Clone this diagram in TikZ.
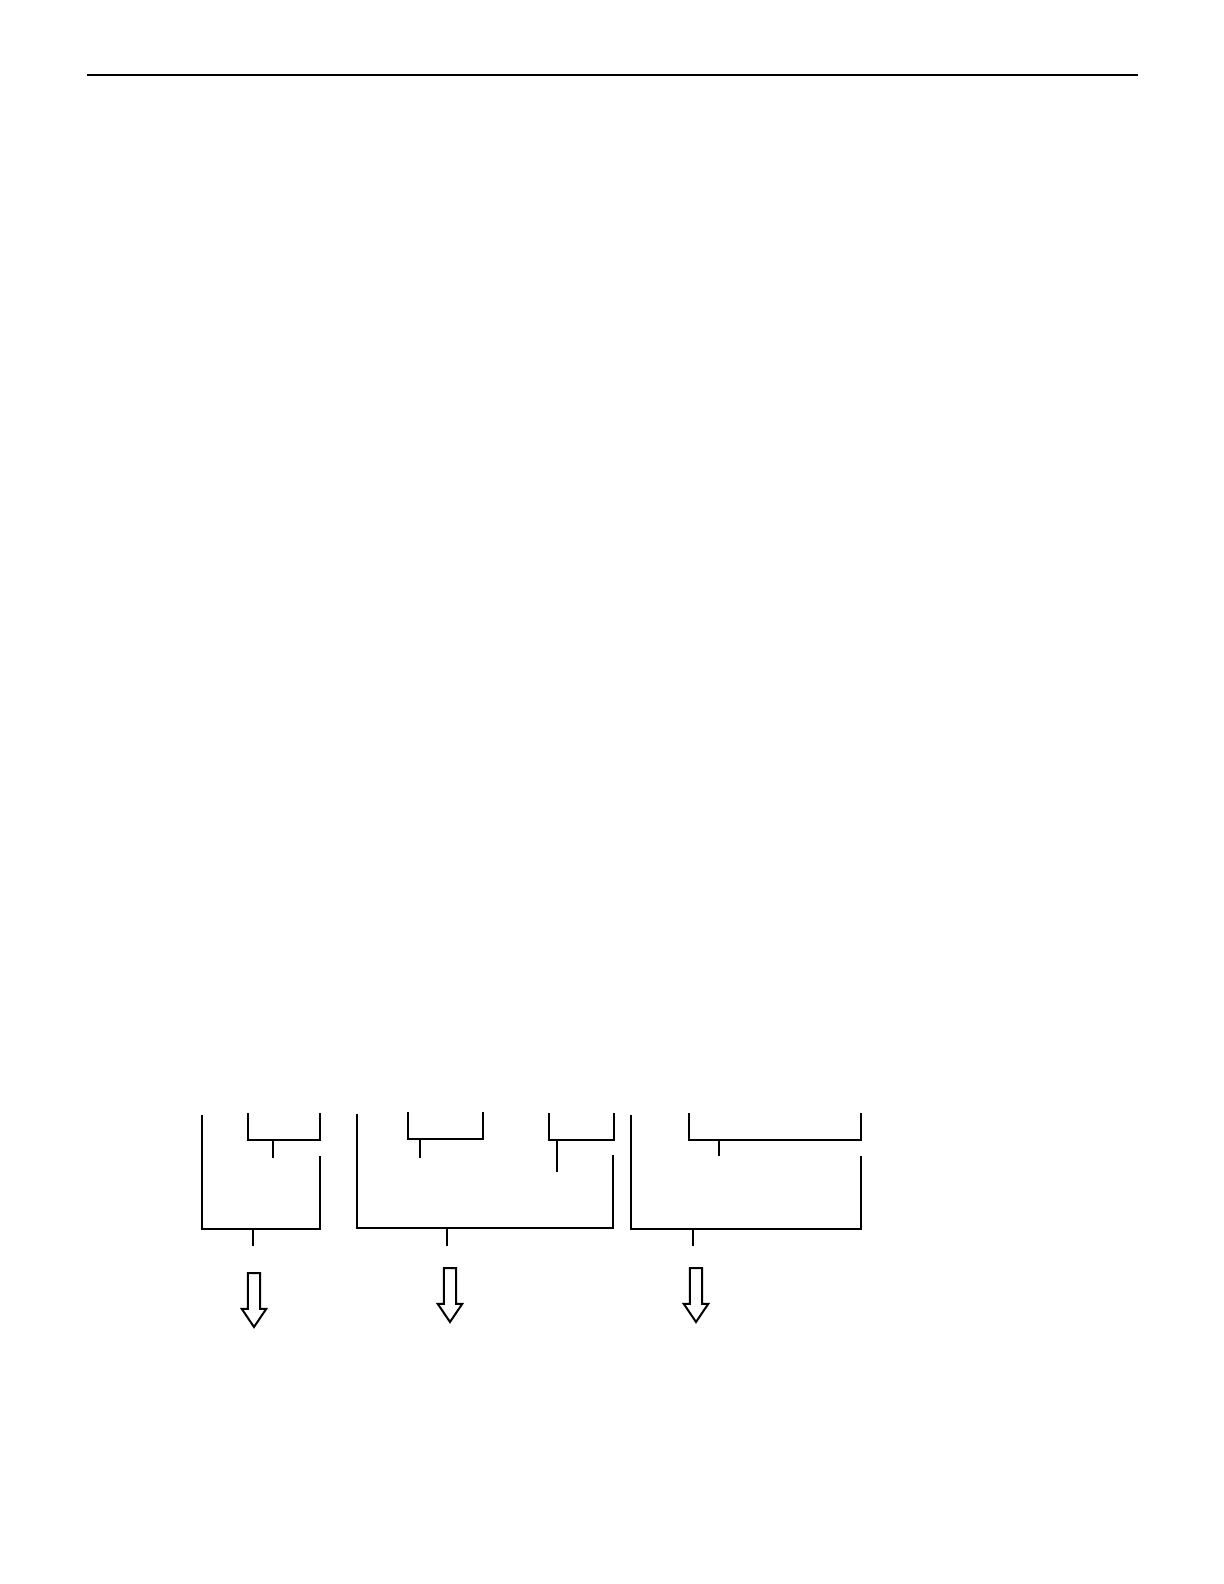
\documentclass[tikz,border=0pt]{standalone}
\usepackage{tikz}
\usetikzlibrary{arrows}
\usetikzlibrary{shapes}

\begin{document}
\begin{tikzpicture}[x=0.5pt, y=-0.5pt]
	\useasboundingbox (0,0) rectangle (1224,1584);

	% rule at the head of the page
	\coordinate (rulel) at (87,75);
	\coordinate (ruler) at (1138,75);
	\path [draw, line width=0.65pt] (rulel) -- (ruler);

	% first group
	\coordinate (g1tl) at (202,1115);
	\coordinate (g1tr) at (320,1156);
	\coordinate (g1j) at (253,1229);
	\coordinate (g1) at (253,1246);
	\coordinate (g1atl) at (248,1113);
	\coordinate (g1atr) at (320,1113);
	\coordinate (g1aj) at (273,1140);
	\coordinate (g1a) at (273,1158);

	% second group
	\coordinate (g2tl) at (357,1114);
	\coordinate (g2tr) at (613,1155);
	\coordinate (g2j) at (447,1228);
	\coordinate (g2) at (447,1246);
	\coordinate (g2atl) at (408,1112);
	\coordinate (g2atr) at (483,1112);
	\coordinate (g2aj) at (420,1139);
	\coordinate (g2a) at (420,1158);
	\coordinate (g2btl) at (549,1113);
	\coordinate (g2btr) at (614,1113);
	\coordinate (g2bj) at (557,1140);
	\coordinate (g2b) at (557,1172);

	% third group
	\coordinate (g3tl) at (631,1115);
	\coordinate (g3tr) at (861,1156);
	\coordinate (g3j) at (693,1229);
	\coordinate (g3) at (693,1246);
	\coordinate (g3atl) at (689,1113);
	\coordinate (g3atr) at (861,1113);
	\coordinate (g3aj) at (719,1140);
	\coordinate (g3a) at (719,1156);

	\path [draw, line width=0.6pt] (g1tl) |- (g1j) -| (g1tr);
	\path [draw, line width=0.6pt] (g1j) -- (g1);
	\path [draw, line width=0.6pt] (g1atl) |- (g1aj) -| (g1atr);
	\path [draw, line width=0.6pt] (g1aj) -- (g1a);

	\path [draw, line width=0.6pt] (g2tl) |- (g2j) -| (g2tr);
	\path [draw, line width=0.6pt] (g2j) -- (g2);
	\path [draw, line width=0.6pt] (g2atl) |- (g2aj) -| (g2atr);
	\path [draw, line width=0.6pt] (g2aj) -- (g2a);
	\path [draw, line width=0.6pt] (g2btl) |- (g2bj) -| (g2btr);
	\path [draw, line width=0.6pt] (g2bj) -- (g2b);

	\path [draw, line width=0.6pt] (g3tl) |- (g3j) -| (g3tr);
	\path [draw, line width=0.6pt] (g3j) -- (g3);
	\path [draw, line width=0.6pt] (g3atl) |- (g3aj) -| (g3atr);
	\path [draw, line width=0.6pt] (g3aj) -- (g3a);

	% hollow arrows under the groups
	\node[anchor=tail, single arrow, draw = black, line width=1pt, shape border rotate=270, inner sep=2.6pt, single arrow head extend=3pt, single arrow tip angle=68, minimum height=27pt] (out1) at (254,1272) {};

	\node[anchor=tail, single arrow, draw = black, line width=1pt, shape border rotate=270, inner sep=2.6pt, single arrow head extend=3pt, single arrow tip angle=68, minimum height=27pt] (out2) at (450,1267) {};

	\node[anchor=tail, single arrow, draw = black, line width=1pt, shape border rotate=270, inner sep=2.6pt, single arrow head extend=3pt, single arrow tip angle=68, minimum height=27pt] (out3) at (696,1267) {};
\end{tikzpicture}
\end{document}
